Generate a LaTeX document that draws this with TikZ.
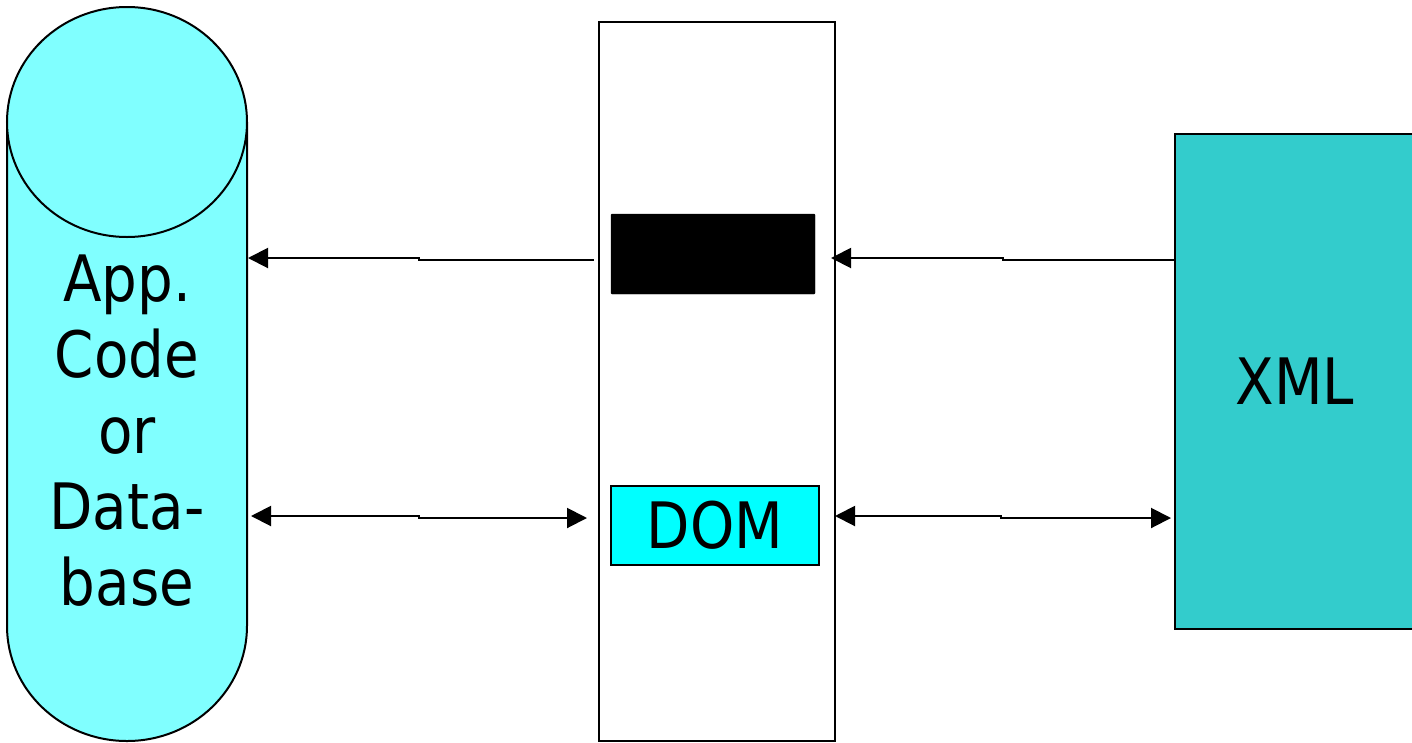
\documentclass[tikz,border=0pt]{standalone}
\usepackage{fontspec}
\setmainfont[FakeStretch=0.88]{DejaVu Sans}
\usetikzlibrary{arrows.meta}
\definecolor{cylfill}{HTML}{80FFFF}
\definecolor{domfill}{HTML}{00FFFF}
\definecolor{xmlfill}{HTML}{33CCCC}
\tikzset{
  big/.style={font=\fontsize{64}{76}\selectfont},
  box/.style={draw=black, line width=2pt, inner sep=0pt},
  conn/.style={line width=2pt, {Triangle[length=20pt,width=20pt]}-},
  dconn/.style={line width=2pt, {Triangle[length=20pt,width=20pt]}-{Triangle[length=20pt,width=20pt]}}
}
\begin{document}
\begin{tikzpicture}[x=1pt,y=-1pt]
\useasboundingbox (0,0) rectangle (1412,742);
% cylinder
\draw[line width=2pt, fill=cylfill] (7,122) -- (7,626) arc[start angle=180, end angle=0, x radius=120, y radius=115] -- (247,122);
\draw[line width=2pt, fill=cylfill] (127,122) ellipse[x radius=120, y radius=115];
\node[big, align=center, inner sep=0pt, anchor=north] (cyl) at (127,255) {App.\\Code\\or\\Data-\\base};
\coordinate (cylA) at (248,258);
\coordinate (cylB) at (251,516);
% middle
\node[box, fill=white, minimum width=236pt, minimum height=719pt] (mid) at (717,381.5) {};
\node[draw=black, fill=black, rounded corners=1pt, minimum width=204pt, minimum height=80pt, inner sep=0pt] (blk) at (713,254) {};
\node[box, fill=domfill, minimum width=208pt, minimum height=79pt, big] (dom) at (715,525.5) {DOM};
% xml
\node[box, fill=xmlfill, minimum width=240pt, minimum height=495pt, big] (xml) at (1295,381.5) {XML};
% connectors
\coordinate (mA) at (594,260);
\coordinate (mB) at (587,518);
\coordinate (mC) at (831,258);
\coordinate (mD) at (835,516);
\coordinate (xA) at (1175,260);
\coordinate (xB) at (1171,518);
\draw[conn] (cylA) -- (419,258) -- (419,260) -- (mA);
\draw[dconn] (cylB) -- (419,516) -- (419,518) -- (mB);
\draw[conn] (mC) -- (1003,258) -- (1003,260) -- (xA);
\draw[dconn] (mD) -- (1001,516) -- (1001,518) -- (xB);
\end{tikzpicture}
\end{document}
